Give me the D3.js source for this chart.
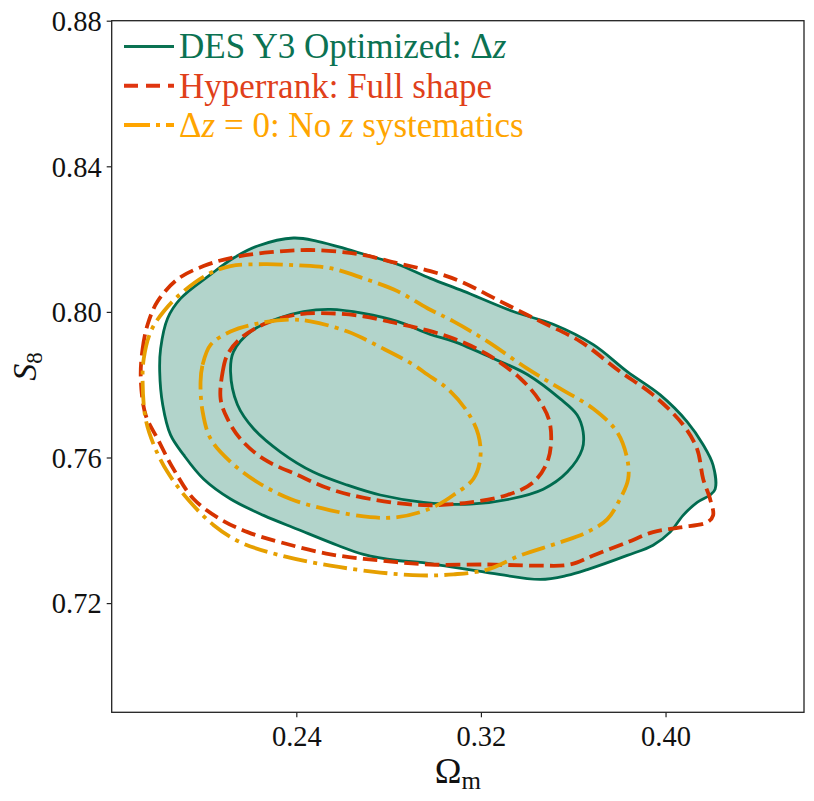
<!DOCTYPE html>
<html>
<head>
<meta charset="utf-8">
<script src="https://cdn.jsdelivr.net/npm/d3@7"></script>
<style>
  html, body { margin: 0; padding: 0; background: #fff; }
  svg { display: block; }
  text { font-family: "Liberation Serif", "DejaVu Serif", serif; }
</style>
</head>
<body>
<svg id="chart" width="814" height="801"></svg>
<script>
// ---------------- data ----------------
const xDomain = [0.16, 0.46];
const yDomain = [0.69, 0.88];
const xTicks = [0.24, 0.32, 0.40];
const yTicks = [0.72, 0.76, 0.80, 0.84, 0.88];
const xTickLabels = ["0.24", "0.32", "0.40"];
const yTickLabels = ["0.72", "0.76", "0.80", "0.84", "0.88"];

// DES Y3 Optimized: Δz  (2σ outer, 1σ inner) [Ωm, S8]
const desOuter = [
  [0.1808,0.7836],[0.1812,0.7899],[0.1842,0.7982],[0.1899,0.8037],[0.2029,0.8103],
  [0.2128,0.8148],[0.2232,0.8181],[0.2388,0.8203],[0.2492,0.8194],[0.2622,0.8172],
  [0.2721,0.8153],[0.2838,0.8131],[0.2981,0.8092],[0.3124,0.8057],[0.3340,0.8001],
  [0.3513,0.7966],[0.3687,0.7910],[0.3834,0.7836],[0.3977,0.7772],[0.4094,0.7698],
  [0.4163,0.7635],[0.4206,0.7579],[0.4215,0.7513],[0.4193,0.7497],[0.4137,0.7477],
  [0.4076,0.7441],[0.4020,0.7395],[0.3946,0.7359],[0.3834,0.7331],[0.3661,0.7292],
  [0.3574,0.7276],[0.3457,0.7265],[0.3228,0.7284],[0.2938,0.7312],[0.2838,0.7317],
  [0.2691,0.7334],[0.2578,0.7359],[0.2405,0.7403],[0.2258,0.7441],[0.2115,0.7486],
  [0.1998,0.7541],[0.1912,0.7607],[0.1855,0.7662],[0.1821,0.7745]
];
const desInner = [
  [0.2115,0.7836],[0.2128,0.7891],[0.2202,0.7946],[0.2319,0.7982],[0.2431,0.8001],
  [0.2548,0.8007],[0.2691,0.7996],[0.2838,0.7974],[0.2981,0.7938],[0.3081,0.7919],
  [0.3254,0.7872],[0.3401,0.7828],[0.3544,0.7761],[0.3617,0.7717],[0.3643,0.7670],
  [0.3639,0.7623],[0.3574,0.7560],[0.3470,0.7513],[0.3327,0.7486],[0.3154,0.7472],
  [0.2951,0.7477],[0.2764,0.7497],[0.2622,0.7524],[0.2474,0.7560],[0.2332,0.7615],
  [0.2215,0.7679],[0.2145,0.7745]
];
// Hyperrank: Full shape
const hyperOuter = [
  [0.1726,0.7817],[0.1734,0.7899],[0.1756,0.7966],[0.1799,0.8029],[0.1886,0.8090],
  [0.1998,0.8126],[0.2115,0.8148],[0.2288,0.8164],[0.2461,0.8170],[0.2665,0.8159],
  [0.2838,0.8134],[0.2981,0.8112],[0.3111,0.8084],[0.3284,0.8029],[0.3457,0.7974],
  [0.3630,0.7919],[0.3803,0.7836],[0.3946,0.7772],[0.4076,0.7690],[0.4137,0.7623],
  [0.4163,0.7541],[0.4193,0.7486],[0.4206,0.7441],[0.4180,0.7422],[0.4063,0.7408],
  [0.3946,0.7395],[0.3834,0.7367],[0.3687,0.7331],[0.3587,0.7306],[0.3444,0.7303],
  [0.3228,0.7306],[0.2981,0.7306],[0.2764,0.7317],[0.2548,0.7334],[0.2332,0.7367],
  [0.2189,0.7395],[0.2072,0.7430],[0.1955,0.7486],[0.1868,0.7568],[0.1799,0.7651],
  [0.1747,0.7717]
];
const hyperInner = [
  [0.2072,0.7761],[0.2081,0.7836],[0.2102,0.7883],[0.2158,0.7927],[0.2258,0.7966],
  [0.2405,0.7993],[0.2548,0.7996],[0.2691,0.7988],[0.2838,0.7968],[0.2938,0.7954],
  [0.3081,0.7927],[0.3228,0.7883],[0.3371,0.7817],[0.3457,0.7753],[0.3500,0.7690],
  [0.3492,0.7596],[0.3427,0.7532],[0.3314,0.7497],[0.3154,0.7477],[0.2951,0.7469],
  [0.2721,0.7486],[0.2548,0.7513],[0.2405,0.7552],[0.2258,0.7596],[0.2158,0.7651],
  [0.2102,0.7706]
];
// Δz = 0: No z systematics
const noSysOuter = [
  [0.1734,0.7808],[0.1739,0.7872],[0.1769,0.7946],[0.1825,0.8001],[0.1912,0.8057],
  [0.2016,0.8103],[0.2115,0.8126],[0.2258,0.8131],[0.2405,0.8128],[0.2548,0.8120],
  [0.2691,0.8092],[0.2838,0.8057],[0.2968,0.8010],[0.3081,0.7974],[0.3228,0.7919],
  [0.3401,0.7844],[0.3544,0.7789],[0.3687,0.7734],[0.3790,0.7670],[0.3834,0.7596],
  [0.3838,0.7541],[0.3803,0.7486],[0.3747,0.7430],[0.3661,0.7395],[0.3544,0.7367],
  [0.3371,0.7331],[0.3228,0.7292],[0.3081,0.7279],[0.2938,0.7276],[0.2764,0.7284],
  [0.2548,0.7303],[0.2332,0.7331],[0.2158,0.7367],[0.2042,0.7414],[0.1929,0.7486],
  [0.1842,0.7560],[0.1782,0.7635],[0.1747,0.7706]
];
const noSysInner = [
  [0.1985,0.7808],[0.1994,0.7855],[0.2029,0.7910],[0.2115,0.7946],[0.2232,0.7968],
  [0.2375,0.7979],[0.2461,0.7974],[0.2622,0.7946],[0.2777,0.7899],[0.2907,0.7855],
  [0.2968,0.7828],[0.3055,0.7789],[0.3141,0.7726],[0.3189,0.7662],[0.3197,0.7596],
  [0.3167,0.7541],[0.3081,0.7497],[0.3011,0.7469],[0.2938,0.7450],[0.2838,0.7436],
  [0.2721,0.7436],[0.2548,0.7455],[0.2375,0.7486],[0.2232,0.7532],[0.2115,0.7588],
  [0.2029,0.7651],[0.1994,0.7726]
];

const legendLabels = [
  [{t:"DES Y3 Optimized: Δ"},{t:"z",i:true}],
  [{t:"Hyperrank: Full shape"}],
  [{t:"Δ"},{t:"z",i:true},{t:" = 0: No "},{t:"z",i:true},{t:" systematics"}]
];

// ---------------- layout ----------------
const margin = {left: 111.7, top: 20.7, right: 804, bottom: 712.3};
const svg = d3.select("#chart");
const x = d3.scaleLinear().domain(xDomain).range([margin.left, margin.right]);
const y = d3.scaleLinear().domain(yDomain).range([margin.bottom, margin.top]);

const green = "#006b4f", greenFill = "#b2d4cb";
const red = "#d63300", orange = "#e69f00";

const line = d3.line().curve(d3.curveCatmullRomClosed.alpha(0.5))
  .x(d => x(d[0])).y(d => y(d[1]));

const plot = svg.append("g");
plot.append("path").attr("d", line(desOuter)).attr("fill", greenFill).attr("stroke", "none");
plot.append("path").attr("d", line(desOuter)).attr("fill", "none").attr("stroke", green).attr("stroke-width", 2.8);
plot.append("path").attr("d", line(desInner)).attr("fill", "none").attr("stroke", green).attr("stroke-width", 2.8);

[hyperOuter, hyperInner].forEach(c => plot.append("path").attr("d", line(c))
  .attr("fill", "none").attr("stroke", red).attr("stroke-width", 3.8)
  .attr("stroke-dasharray", "14.5,6.3"));
[noSysOuter, noSysInner].forEach(c => plot.append("path").attr("d", line(c))
  .attr("fill", "none").attr("stroke", orange).attr("stroke-width", 3.8)
  .attr("stroke-dasharray", "24,6.3,4,6.3"));

// axes
const xAxis = d3.axisBottom(x).tickValues(xTicks).tickSize(5).tickPadding(8)
  .tickFormat((d, i) => xTickLabels[i]);
const yAxis = d3.axisLeft(y).tickValues(yTicks).tickSize(5).tickPadding(5)
  .tickFormat((d, i) => yTickLabels[i]);

const gx = svg.append("g").attr("transform", `translate(0,${margin.bottom})`).call(xAxis);
const gy = svg.append("g").attr("transform", `translate(${margin.left},0)`).call(yAxis);
[gx, gy].forEach(g => {
  g.select(".domain").remove();
  g.selectAll(".tick line").attr("stroke", "#222").attr("stroke-width", 1.2);
  g.selectAll(".tick text").attr("fill", "#111").style("font-size", "28.5px")
    .style("font-family", '"Liberation Serif", serif');
});
gx.selectAll(".tick text").attr("dy", "0.71em");
gy.selectAll(".tick text").attr("dy", "0.34em");

// frame
svg.append("rect").attr("x", margin.left).attr("y", margin.top)
  .attr("width", margin.right - margin.left).attr("height", margin.bottom - margin.top)
  .attr("fill", "none").attr("stroke", "#222").attr("stroke-width", 1.3);

// axis labels
const xl = svg.append("text").attr("x", (margin.left + margin.right) / 2).attr("y", 783)
  .attr("text-anchor", "middle").attr("fill", "#111").style("font-size", "36px");
xl.append("tspan").text("Ω");
xl.append("tspan").attr("dy", 6).style("font-size", "25px").text("m");

const yl = svg.append("text").attr("transform", `translate(36,${(margin.top + margin.bottom) / 2}) rotate(-90)`)
  .attr("text-anchor", "middle").attr("fill", "#111").style("font-size", "34px");
yl.append("tspan").style("font-style", "italic").text("S");
yl.append("tspan").attr("dy", 6).style("font-size", "23px").text("8");

// legend
const legendStyles = [
  {c: green, tc: "#0b7252", dash: null, w: 3},
  {c: red, tc: "#e0401a", dash: "14,8", w: 4},
  {c: orange, tc: "#ffa500", dash: "26,6,4,6", w: 4}
];
const legendColorsLine = ["#0b7252", "#e03510", "#ffa500"];
legendLabels.forEach((parts, i) => {
  const yb = 58.3 + i * 39.2;
  const s = legendStyles[i];
  svg.append("line").attr("x1", 124).attr("x2", 174).attr("y1", yb - 11.8).attr("y2", yb - 11.8)
    .attr("stroke", legendColorsLine[i]).attr("stroke-width", s.w)
    .attr("stroke-dasharray", s.dash);
  const t = svg.append("text").attr("x", 179).attr("y", yb).attr("fill", s.tc).style("font-size", "35px");
  parts.forEach(p => {
    const ts = t.append("tspan").text(p.t);
    if (p.i) ts.style("font-style", "italic");
  });
});
</script>
</body>
</html>
